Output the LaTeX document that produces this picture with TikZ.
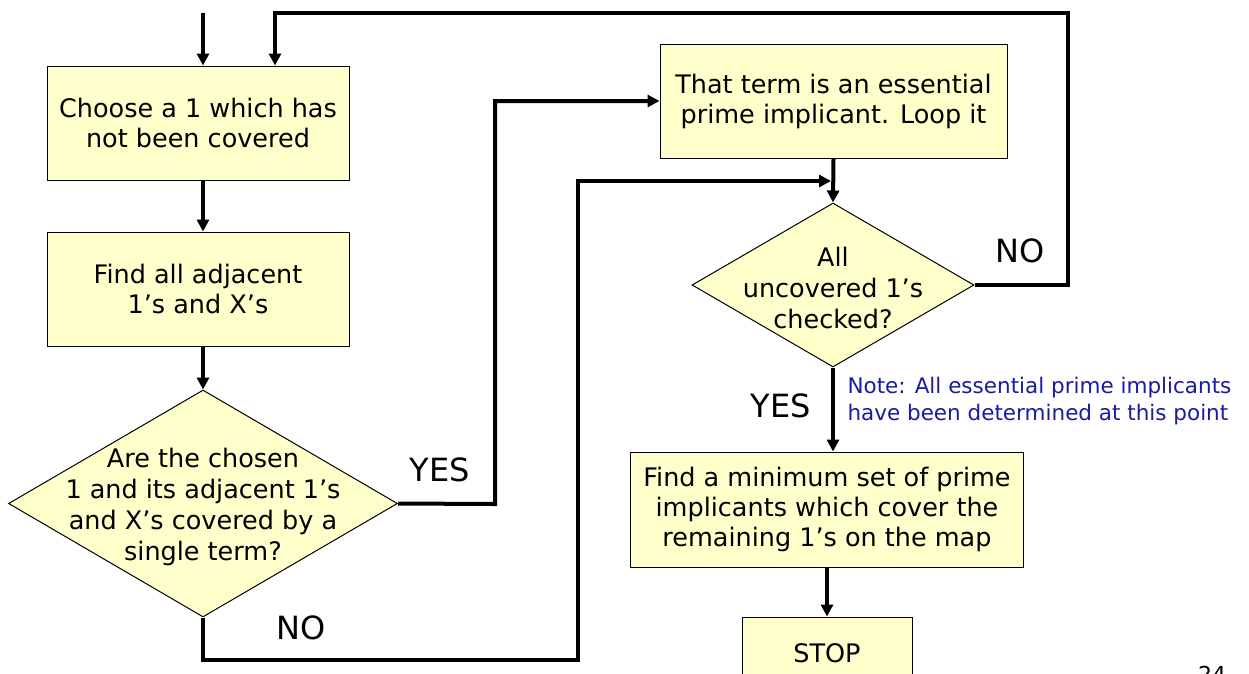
\documentclass[tikz,border=0pt]{standalone}
\usepackage{fontspec}
\setmainfont{DejaVu Sans}
\usetikzlibrary{shapes.geometric,arrows.meta}
\definecolor{boxfill}{HTML}{FFFFCC}
\definecolor{notecol}{HTML}{1A1AA6}
\tikzset{
  stepbox/.style={draw=black, line width=1pt, fill=boxfill, inner sep=0pt,
    align=center, font=\fontsize{25.5}{30}\selectfont},
  testbox/.style={diamond, draw=black, line width=1pt, fill=boxfill, inner sep=0pt},
  boxtext/.style={align=center, font=\fontsize{25.5}{31}\selectfont},
  conn/.style={line width=4pt, -{Triangle[length=12pt,width=12pt]}},
  answer/.style={font=\fontsize{32}{32}\selectfont},
  notetext/.style={align=left, text=notecol, font=\fontsize{21.5}{27}\selectfont},
}
\begin{document}
\begin{tikzpicture}[x=1pt,y=-1pt]
\useasboundingbox (0,0) rectangle (1249,673);
\clip (0,0) rectangle (1249,673);

% process boxes
\node[stepbox, minimum width=302pt, minimum height=114pt] (b1) at (198,123)
  {Choose a 1 which has\\not been covered};
\node[stepbox, minimum width=302pt, minimum height=114pt] (b2) at (198,289)
  {Find all adjacent\\1’s and X’s};
\node[stepbox, minimum width=347pt, minimum height=114pt] (b3) at (833.5,101)
  {That term is an essential\\prime implicant. Loop it};
\node[stepbox, minimum width=393pt, minimum height=115pt] (b4) at (827,509.5)
  {Find a minimum set of prime\\implicants which cover the\\remaining 1’s on the map};
\node[stepbox, minimum width=170pt, minimum height=72pt] (stop) at (827,653)
  {STOP};

% decisions
\node[testbox, minimum width=389pt, minimum height=227pt] (d1) at (203,503.5) {};
\node[boxtext] (d1t) at (203,507) {Are the chosen\\1 and its adjacent 1’s\\and X’s covered by a\\single term?};
\node[testbox, minimum width=282pt, minimum height=164pt] (d2) at (833,285) {};
\node[boxtext] (d2t) at (833,288) {All\\uncovered 1’s\\checked?};

% corner points of the connectors
\coordinate (in1) at (203,13);
\coordinate (yesup) at (495,504);
\coordinate (nodown) at (203,660);
\coordinate (noright) at (578,660);
\coordinate (noup) at (578,181);
\coordinate (join) at (831,181);
\coordinate (loopr) at (1068,285);
\coordinate (looptr) at (1068,13);
\coordinate (looptl) at (275,13);

% connectors
\draw[conn] (in1) -- (in1 |- b1.north);
\draw[conn] (in1 |- b1.south) -- (in1 |- b2.north);
\draw[conn] (in1 |- b2.south) -- (d1.north);
\draw[conn] (d1.east) -- (yesup) |- (b3.west);
\draw[conn] (d1.south) -- (nodown) -- (noright) -- (noup) -- (join);
\draw[conn] (b3.south) -- (d2.north);
\draw[conn] (d2.east) -- (loopr) -- (looptr) -- (looptl) -- (looptl |- b1.north);
\draw[conn] (d2.south) -- (d2.south |- b4.north);
\draw[conn] (b4.south) -- (stop.north);

% branch labels
\node[answer] (yes1) at (440,470) {YES};
\node[answer] (no1) at (301,628) {NO};
\node[answer] (no2) at (1020,251) {NO};
\node[answer] (yes2) at (781,406) {YES};

% remark beside the YES branch
\node[notetext, anchor=west] (note) at (844,401)
  {Note: All essential prime implicants\\have been determined at this point};

% page number
\node[font=\fontsize{22}{22}\selectfont, anchor=north] (page) at (1212,663) {24};
\end{tikzpicture}
\end{document}
